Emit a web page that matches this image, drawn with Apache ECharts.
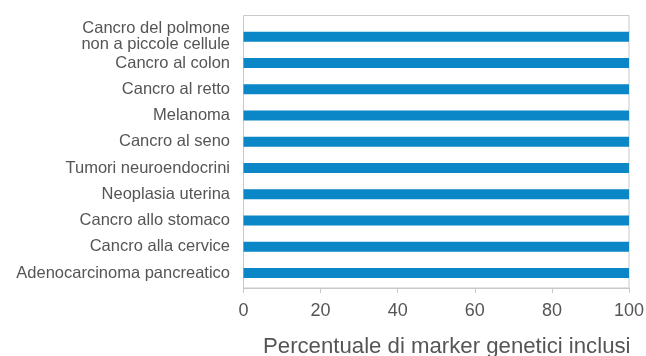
<!DOCTYPE html>
<html>
<head>
<meta charset="utf-8">
<script src="https://cdn.jsdelivr.net/npm/echarts@6/dist/echarts.min.js"></script>
<style>
  html, body { margin: 0; padding: 0; background: #fff; }
  #chart { width: 646px; height: 356px; }
</style>
</head>
<body>
<div id="chart"></div>
<script>
// Tumour types, listed top to bottom
var categories = [
  'Cancro del polmone\nnon a piccole cellule',
  'Cancro al colon',
  'Cancro al retto',
  'Melanoma',
  'Cancro al seno',
  'Tumori neuroendocrini',
  'Neoplasia uterina',
  'Cancro allo stomaco',
  'Cancro alla cervice',
  'Adenocarcinoma pancreatico'
];

// Percentage of genetic markers covered for each tumour type
var percentCovered = [100, 100, 100, 100, 100, 100, 100, 100, 100, 100];

// Value axis ticks
var xTicks = [0, 20, 40, 60, 80, 100];

var FONT = '"Liberation Sans", Arial, Helvetica, sans-serif';
var GRID_LINE = '#c9c9c9';
var TEXT = '#555555';

var chart = echarts.init(document.getElementById('chart'), null, { renderer: 'canvas' });

chart.setOption({
  animation: false,
  backgroundColor: '#ffffff',
  textStyle: { fontFamily: FONT },
  grid: {
    left: 243.5, right: 17, top: 23.6, bottom: 69.8,
    containLabel: false,
    outerBoundsMode: 'none'
  },
  graphic: [{
    type: 'rect',
    silent: true,
    z: 0,
    shape: { x: 243.5, y: 15.5, width: 385.5, height: 272.5 },
    style: { fill: 'none', stroke: GRID_LINE, lineWidth: 1 }
  }],
  xAxis: {
    type: 'value',
    min: xTicks[0],
    max: xTicks[xTicks.length - 1],
    interval: xTicks[1] - xTicks[0],
    offset: 1.8,
    axisLine: { show: true, lineStyle: { color: GRID_LINE, width: 1 } },
    axisTick: { show: true, length: 5, lineStyle: { color: GRID_LINE } },
    splitLine: { show: false },
    axisLabel: { color: TEXT, fontSize: 18, fontFamily: FONT, margin: 14 },
    name: 'Percentuale di marker genetici inclusi',
    nameLocation: 'middle',
    nameGap: 47.5,
    nameTextStyle: { color: TEXT, fontSize: 22.2, fontFamily: FONT, padding: [0, 0, 0, 21] }
  },
  yAxis: {
    type: 'category',
    inverse: true,
    data: categories,
    axisLine: { show: false },
    axisTick: { show: false },
    splitLine: { show: false },
    axisLabel: { color: TEXT, fontSize: 16.5, lineHeight: 16, fontFamily: FONT, margin: 13.5 }
  },
  series: [{
    type: 'bar',
    data: percentCovered,
    barWidth: 10,
    itemStyle: { color: '#0b86c6' },
    z: 2
  }]
});
</script>
</body>
</html>
